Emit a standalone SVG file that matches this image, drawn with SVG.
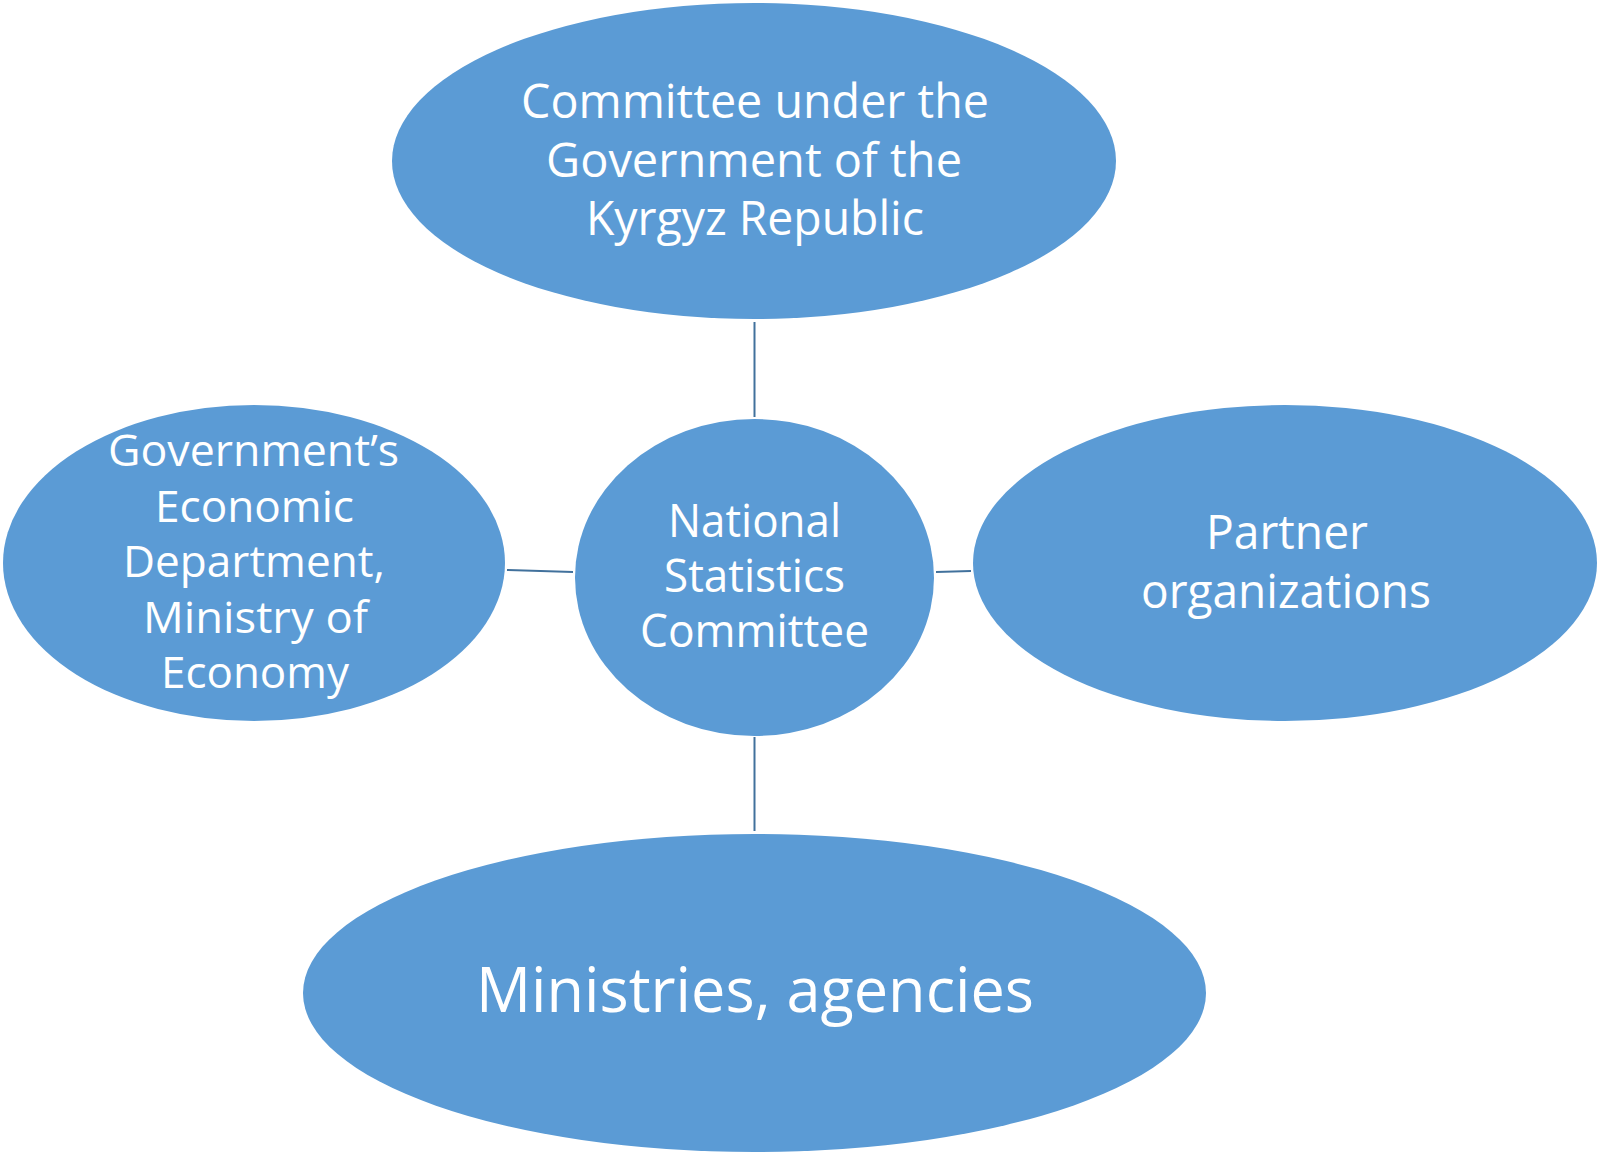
<svg xmlns="http://www.w3.org/2000/svg" width="1598" height="1153" viewBox="0 0 1598 1153">
<style>
.node{fill:#5B9BD5;}
.lbl{fill:#FFFFFF;font-family:"Open Sans","Liberation Sans",sans-serif;}
.conn{stroke:#41719C;stroke-width:2;fill:none;}
</style>
<rect width="1598" height="1153" fill="#FFFFFF"/>
<g id="connectors">
<line class="conn" x1="754.5" y1="322" x2="754.5" y2="417"/>
<line class="conn" x1="754.5" y1="737" x2="754.5" y2="831"/>
<line class="conn" x1="507" y1="570" x2="573" y2="572"/>
<line class="conn" x1="936" y1="572" x2="971" y2="571"/>
</g>
<g id="node-top">
<ellipse class="node" cx="754" cy="161" rx="362" ry="158"/>
<text class="lbl" font-size="48"><tspan x="521" y="118" textLength="468" lengthAdjust="spacingAndGlyphs">Committee under the</tspan><tspan x="546" y="177" textLength="416" lengthAdjust="spacingAndGlyphs">Government of the</tspan><tspan x="586" y="235" textLength="338" lengthAdjust="spacingAndGlyphs">Kyrgyz Republic</tspan></text>
</g>
<g id="node-left">
<ellipse class="node" cx="254" cy="563" rx="251" ry="158"/>
<text class="lbl" font-size="44"><tspan x="108" y="466" textLength="291" lengthAdjust="spacingAndGlyphs">Government’s</tspan><tspan x="155" y="522" textLength="199" lengthAdjust="spacingAndGlyphs">Economic</tspan><tspan x="123" y="577" textLength="262" lengthAdjust="spacingAndGlyphs">Department,</tspan><tspan x="143" y="633" textLength="225" lengthAdjust="spacingAndGlyphs">Ministry of</tspan><tspan x="161" y="688" textLength="188" lengthAdjust="spacingAndGlyphs">Economy</tspan></text>
</g>
<g id="node-center">
<ellipse class="node" cx="754.5" cy="577.5" rx="179.5" ry="158.5"/>
<text class="lbl" font-size="45"><tspan x="668" y="537" textLength="173" lengthAdjust="spacingAndGlyphs">National</tspan><tspan x="664" y="592" textLength="181" lengthAdjust="spacingAndGlyphs">Statistics</tspan><tspan x="640" y="647" textLength="229" lengthAdjust="spacingAndGlyphs">Committee</tspan></text>
</g>
<g id="node-right">
<ellipse class="node" cx="1285" cy="563" rx="312" ry="158"/>
<text class="lbl" font-size="47"><tspan x="1206" y="549" textLength="162" lengthAdjust="spacingAndGlyphs">Partner</tspan><tspan x="1141" y="608" textLength="290" lengthAdjust="spacingAndGlyphs">organizations</tspan></text>
</g>
<g id="node-bottom">
<ellipse class="node" cx="754.5" cy="993" rx="451.5" ry="159"/>
<text class="lbl" font-size="62" x="476" y="1012" textLength="558" lengthAdjust="spacingAndGlyphs">Ministries, agencies</text>
</g>
</svg>
